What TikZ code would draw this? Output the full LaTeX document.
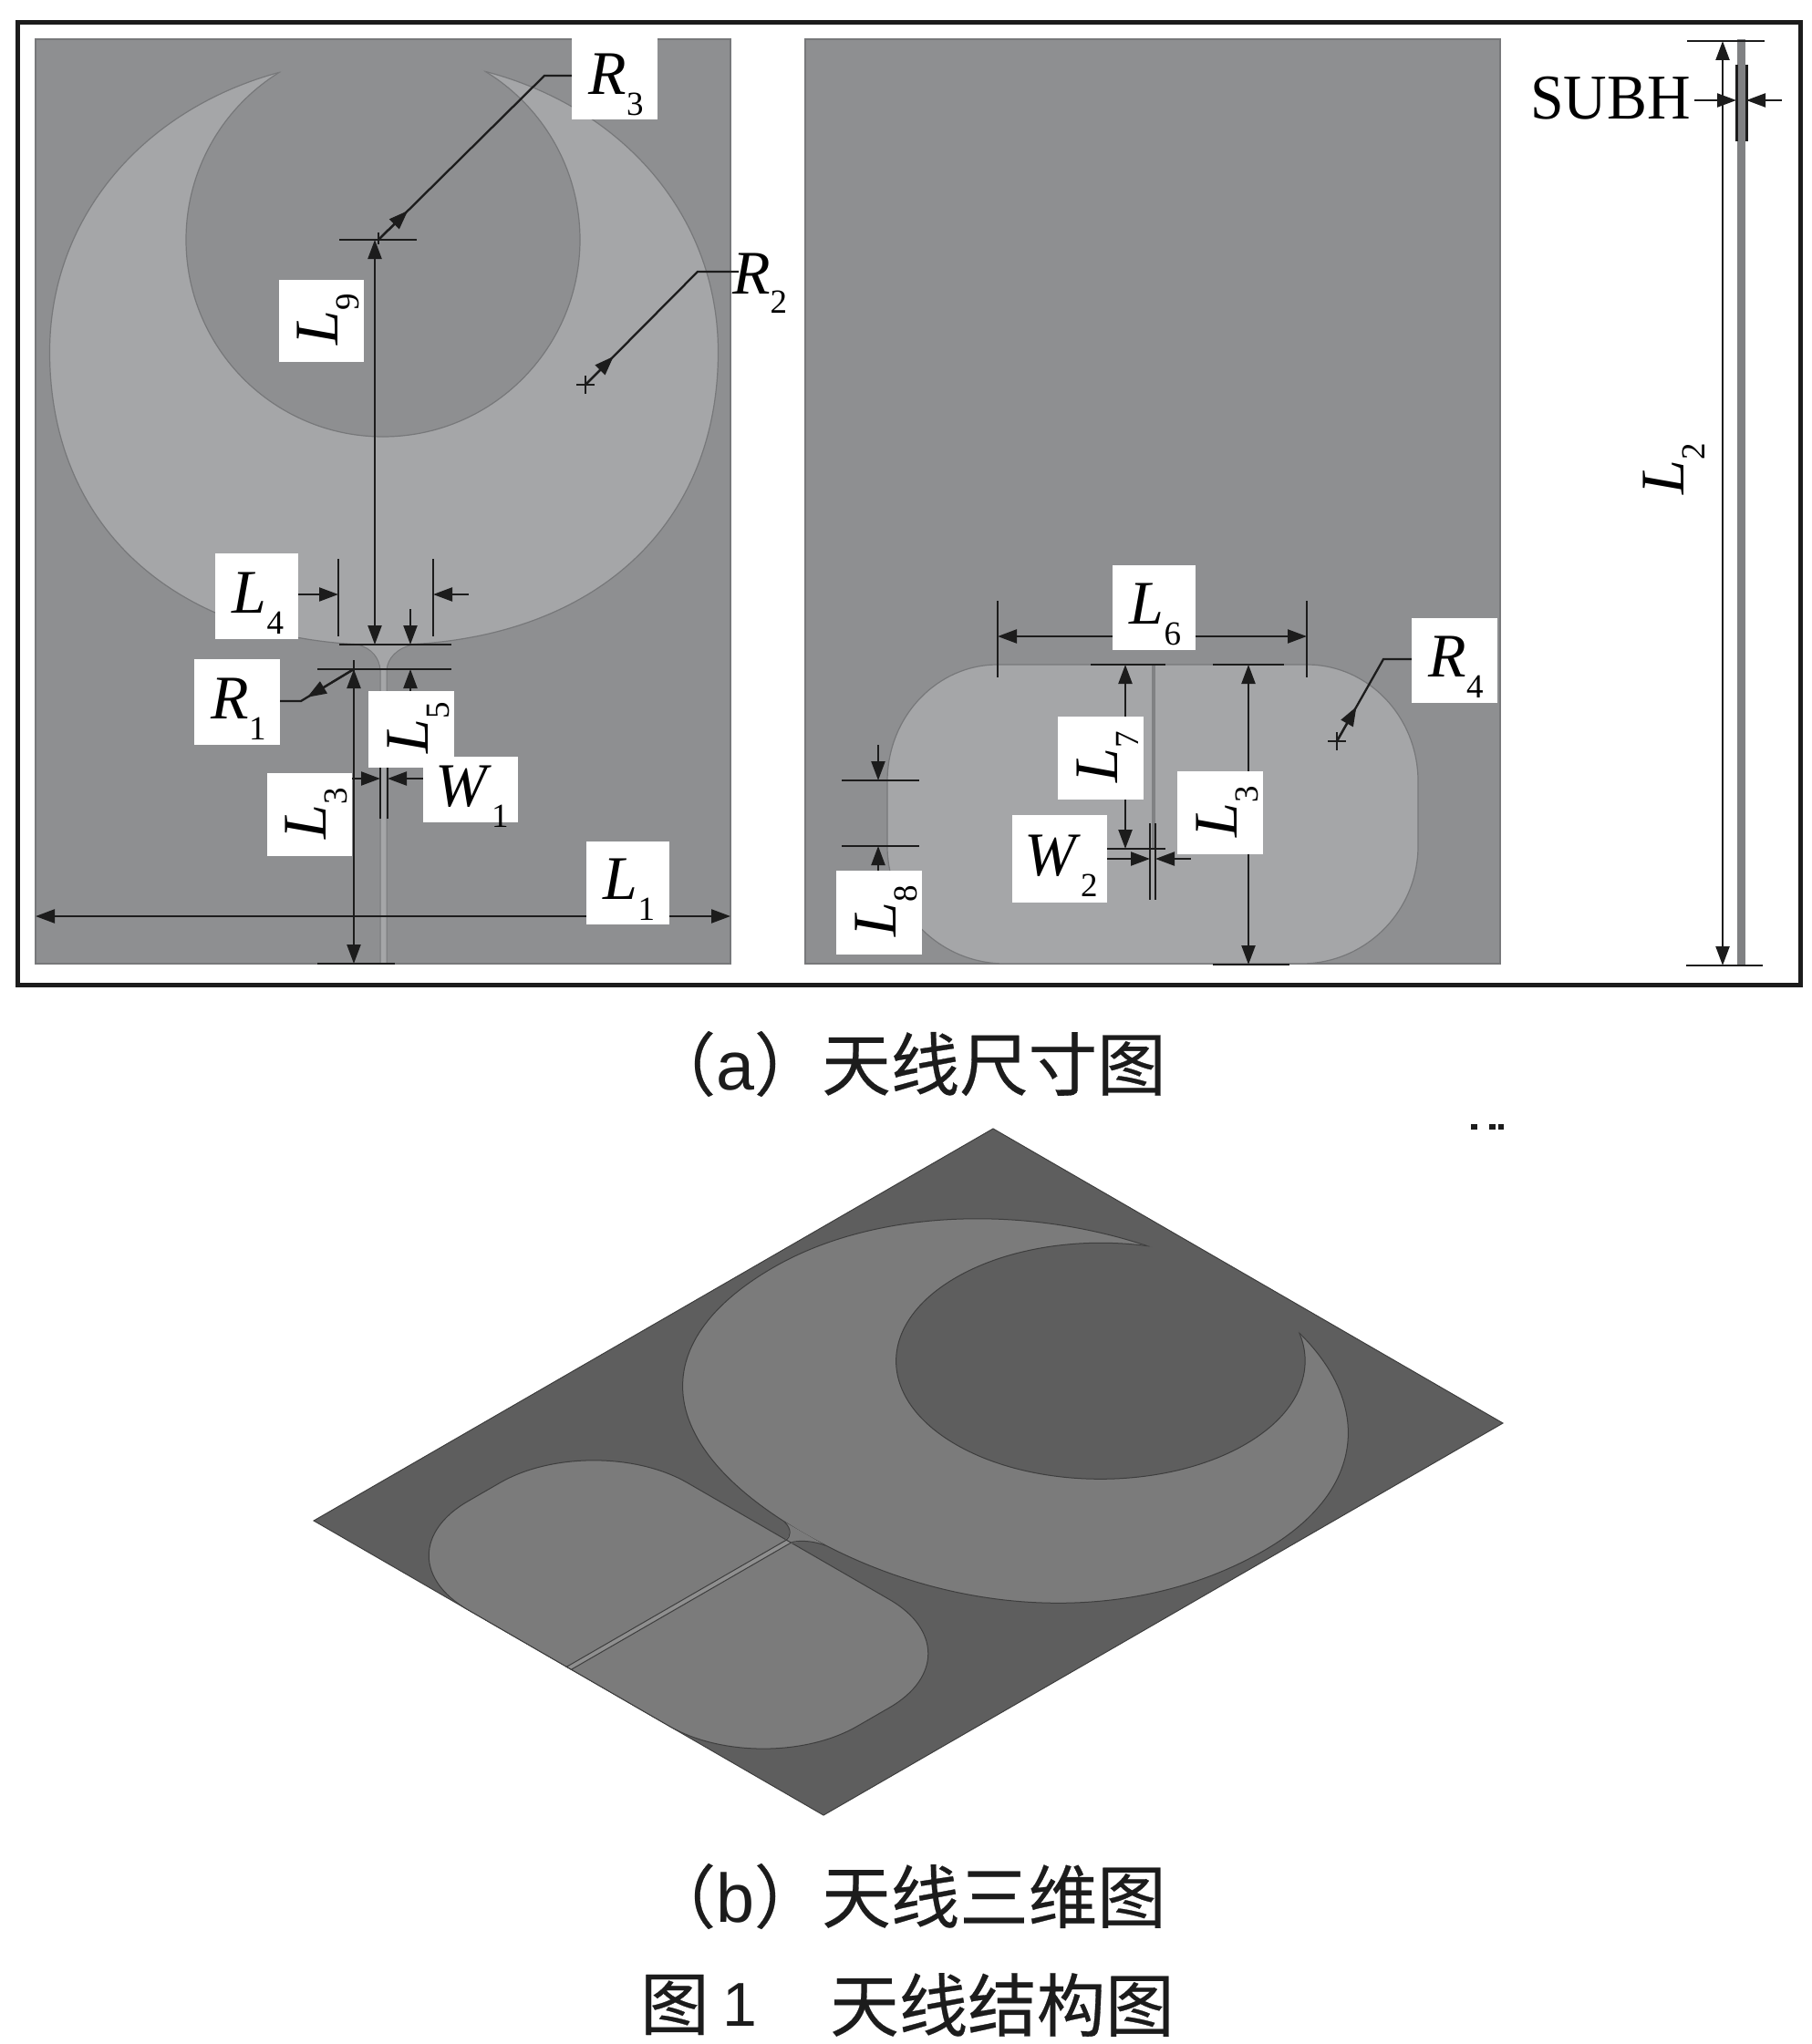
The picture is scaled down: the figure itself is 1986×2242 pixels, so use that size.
\documentclass[tikz,border=0pt]{standalone}
\usepackage{fontspec}
\setmainfont{Liberation Serif}
\newfontfamily\cjk[FakeBold=0.4]{Noto Sans CJK SC}
\newfontfamily\capsans{Liberation Sans}
\usetikzlibrary{arrows.meta,calc}
\pgfdeclarelayer{labels}
\pgfsetlayers{main,labels}
\definecolor{inkc}{HTML}{1C1C1C}
\definecolor{panelc}{HTML}{8E8F91}
\definecolor{patchc}{HTML}{A5A6A8}
\definecolor{edgec}{HTML}{77787A}
\definecolor{groundc}{HTML}{5E5E5E}
\definecolor{patchd}{HTML}{7B7B7B}
\definecolor{edged}{HTML}{3E3E3E}
\tikzset{
  labelbox/.style={fill=white,inner sep=0pt,font=\fontsize{68}{68}\selectfont,text=black},
  freelabel/.style={inner sep=0pt,font=\fontsize{68}{68}\selectfont,text=black},
  capt/.style={inner sep=0pt,font=\cjk\fontsize{75.5}{76}\selectfont,text=inkc},
  tick/.style={draw=inkc,line width=2.3pt},
  both/.style={draw=inkc,line width=2.3pt,{Triangle[length=21pt,width=15pt]}-{Triangle[length=21pt,width=15pt]}},
  one/.style={draw=inkc,line width=2.3pt,-{Triangle[length=21pt,width=15pt]}},
  lead/.style={draw=inkc,line width=2.3pt},
  leadtip/.style={draw=inkc,line width=2.3pt,-{Triangle[length=21pt,width=15pt]}},
}
\newcommand{\sublbl}[2]{\smash{\raisebox{-18pt}{\hspace{3pt}\textit{#1}\raisebox{-23pt}{\smash{\fontsize{37}{37}\selectfont #2}}}}}
% name, left, top, right, bottom, letter, digit
\newcommand{\boxh}[7]{\node[labelbox,minimum width={(#4-#2)*1pt},minimum height={(#5-#3)*1pt}] (#1) at ({(#2+#4)/2},{(#3+#5)/2}) {\sublbl{#6}{#7}};}
\newcommand{\boxv}[7]{\node[labelbox,rotate=90,minimum width={(#5-#3)*1pt},minimum height={(#4-#2)*1pt}] (#1) at ({(#2+#4)/2},{(#3+#5)/2}) {\sublbl{#6}{#7}};}
% the antenna outlines, in the coordinates of the flat view
\newcommand{\outerpath}{(54.5,386) .. controls (54.5,582) and (197.4,707.5) .. (421,707.5) .. controls (644.6,707.5) and (787.5,582) .. (787.5,386) .. controls (787.5,203) and (630,64.5) .. (421,64.5) .. controls (212,64.5) and (54.5,203) .. (54.5,386) -- cycle}
\newcommand{\innerpath}{(420,263) circle[radius=216pt]}
\newcommand{\roundpath}{(1094,729) arc[start angle=90,end angle=180,x radius=121pt,y radius=128pt] -- (973,928) arc[start angle=180,end angle=270,x radius=129pt,y radius=129pt] -- (1427,1057) arc[start angle=270,end angle=360,x radius=128pt,y radius=129pt] -- (1555,857) arc[start angle=0,end angle=90,x radius=122pt,y radius=128pt] -- cycle}
\newcommand{\roundpathD}{(269,729) arc[start angle=90,end angle=180,radius=140pt] -- (129,917) arc[start angle=180,end angle=270,radius=140pt] -- (571,1057) arc[start angle=270,end angle=360,radius=140pt] -- (711,869) arc[start angle=0,end angle=90,radius=140pt] -- cycle}
\begin{document}
\begin{tikzpicture}[x=1pt,y=-1pt]
\useasboundingbox (0,0) rectangle (1986,2242);
% labels go on a layer above the drawing
\begin{pgfonlayer}{labels}
\boxh{R3}{627}{40}{721}{131}{R}{3}
\boxv{L9}{306}{307}{399}{397}{L}{9}
\boxh{L4}{236}{607}{327}{701}{L}{4}
\boxh{R1}{213}{723}{307}{817}{R}{1}
\boxv{L5}{404}{758}{498}{842}{L}{5}
\boxv{L3a}{293}{848}{386}{939}{L}{3}
\boxh{W1}{464}{830}{568}{902}{W}{1}
\boxh{L1}{643}{923}{734}{1014}{L}{1}
\boxh{L6}{1220}{620}{1311}{713}{L}{6}
\boxh{R4}{1548}{678}{1642}{771}{R}{4}
\boxv{L7}{1160}{786}{1254}{877}{L}{7}
\boxv{L3b}{1291}{846}{1385}{937}{L}{3}
\boxh{W2}{1110}{894}{1214}{990}{W}{2}
\boxv{L8}{917}{955}{1011}{1047}{L}{8}
\node[freelabel,anchor=base west] (R2) at (803,322) {\textit{R}\raisebox{-21pt}{\smash{\fontsize{37}{37}\selectfont 2}}};
\node[freelabel,rotate=90] (L2) at (1828,516) {\sublbl{L}{2}};
\node[freelabel,anchor=base west,font=\fontsize{70}{70}\selectfont] (SUBH) at (1678,131) {\scalebox{0.94}[1]{SUBH}};
\node[capt] (capA) at (806,1167) {（{\capsans a}）};
\node[capt] (capAt) at (1090,1167) {天线尺寸图};
\node[capt] (capB) at (806,2080) {（{\capsans b}）};
\node[capt] (capBt) at (1090,2080) {天线三维图};
\node[capt] (figA) at (740,2199) {图};
\node[capt,font=\capsans\fontsize{68}{68}\selectfont] (figN) at (811,2199) {1};
\node[capt] (figT) at (1099,2199) {天线结构图};
\end{pgfonlayer}
% frame
\draw[inkc,line width=5pt] (19,25) rectangle (1974,1080);
% left panel
\fill[panelc,draw=edgec,line width=1.2pt] (39,43) rectangle (801,1057);
\fill[patchc,draw=edgec,line width=1.2pt] \outerpath;
\fill[panelc] \innerpath;
\begin{scope}
\clip \outerpath;
\draw[edgec,line width=1.2pt] \innerpath;
\end{scope}
\fill[patchc] (392,707) .. controls (408,711) and (416,722) .. (417,735) -- (417,1057) -- (424,1057) -- (424,735) .. controls (425,722) and (435,711) .. (453,707) -- cycle;
\draw[edgec,line width=1pt] (392,707) .. controls (408,711) and (416,722) .. (417,735) -- (417,1057);
\draw[edgec,line width=1pt] (453,707) .. controls (435,711) and (425,722) .. (424,735) -- (424,1057);
% right panel
\fill[panelc,draw=edgec,line width=1.2pt] (883,43) rectangle (1645,1057);
\fill[patchc] \roundpath;
\draw[edgec,line width=1.2pt] \roundpath;
\fill[edgec!80!patchc] (1262.5,729) rectangle (1266.5,931);
% side view
\fill[edgec!60!panelc] (1905,43) rectangle (1914,1058);
% dimension lines, left panel
\draw[both] (39,1005) -- (801,1005);
\draw[tick] (348,734) -- (495,734);
\draw[tick] (348,1057) -- (433,1057);
\draw[tick] (388,724) -- (388,740);
\draw[both] (388,734) -- (388,1057);
\draw[tick] (372,263) -- (457,263);
\draw[tick] (372,707) -- (495,707);
\draw[both] (411,263) -- (411,707);
\draw[tick] (371,613) -- (371,698);
\draw[tick] (475,613) -- (475,698);
\draw[one] (L4.east |- 0,652) -- (371,652);
\draw[one] (514,652) -- (475,652);
\draw[one] (450,668) -- (450,707);
\draw[one] (450,0 |- L5.east) -- (450,734);
\draw[tick] (417,842) -- (417,898);
\draw[tick] (425,842) -- (425,898);
\draw[one] (L3a.south |- 0,854) -- (417,854);
\draw[one] (W1.west |- 0,854) -- (425,854);
% radius leaders, left panel
\coordinate (c1) at (388,734); \coordinate (e1) at (330,769);
\draw[lead] (R1.east |- e1) -- (e1) -- (c1);
\draw[leadtip] (c1) -- ($(c1)!0.88!(e1)$);
\coordinate (c3) at (415,263); \coordinate (e3) at (597,83);
\draw[lead] (R3.west |- e3) -- (e3) -- (c3);
\draw[leadtip] (c3) -- ($(c3)!0.177!(e3)$);
\draw[tick] (415,255) -- (415,268);
\coordinate (c2) at (642,422); \coordinate (e2) at (765,298);
\draw[lead] (810,298) -- (e2) -- (c2);
\draw[leadtip] (c2) -- ($(c2)!0.25!(e2)$);
\draw[tick] (632,422) -- (652,422);
\draw[tick] (642,412) -- (642,432);
% dimension lines, right panel
\draw[tick] (1094,659) -- (1094,743);
\draw[tick] (1433,659) -- (1433,743);
\draw[both] (1094,698) -- (1433,698);
\draw[tick] (1196,729) -- (1278,729);
\draw[tick] (1214,931) -- (1278,931);
\draw[both] (1234,729) -- (1234,931);
\draw[tick] (1330,729) -- (1408,729);
\draw[tick] (1330,1058) -- (1414,1058);
\draw[both] (1369,729) -- (1369,1058);
\draw[tick] (1261,903) -- (1261,987);
\draw[tick] (1267,903) -- (1267,987);
\draw[one] (W2.east |- 0,942) -- (1261,942);
\draw[one] (1306,942) -- (1267,942);
\draw[tick] (923,856) -- (1008,856);
\draw[tick] (923,928) -- (1008,928);
\draw[one] (963,817) -- (963,856);
\draw[one] (963,0 |- L8.east) -- (963,928);
\coordinate (c4) at (1466,813); \coordinate (e4) at (1517,723);
\draw[lead] (R4.west |- e4) -- (e4) -- (c4);
\draw[leadtip] (c4) -- ($(c4)!0.42!(e4)$);
\draw[tick] (1456,813) -- (1476,813);
\draw[tick] (1466,803) -- (1466,823);
% side view dimensions
\draw[tick] (1850,45) -- (1935,45);
\draw[tick] (1849,1059) -- (1933,1059);
\draw[both] (1889,45) -- (1889,1059);
\draw[inkc,line width=3pt] (1904.5,71) -- (1904.5,155);
\draw[inkc,line width=3pt] (1915,71) -- (1915,155);
\draw[one] (1858,110) -- (1904,110);
\draw[one] (1954,110) -- (1915,110);
% three-dimensional view
\begin{scope}[cm={0.7336,-0.4239,0.7347,0.4241,(1092pt,-1203.2pt)}]
\fill[groundc,draw=edged,line width=1pt] (39,43) rectangle (801,1057);
\fill[patchd,draw=edged,line width=1pt] \roundpathD;
\fill[patchd,draw=edged,line width=1pt] \outerpath;
\fill[groundc] \innerpath;
\begin{scope}
\clip \outerpath;
\draw[edged,line width=1pt] \innerpath;
\end{scope}
\fill[patchd] (392,707) .. controls (408,711) and (416,722) .. (417,735) -- (424,735) .. controls (425,722) and (435,711) .. (453,707) -- cycle;
\draw[edged,line width=1pt] (392,707) .. controls (408,711) and (416,722) .. (417,729);
\draw[edged,line width=1pt] (453,707) .. controls (435,711) and (425,722) .. (424,729);
\fill[patchd!85!white,draw=edged,line width=1pt] (417,729) rectangle (424,1057);
\end{scope}
% stray marks above the 3D view
\fill[inkc] (1613,1233) rectangle (1620,1239);
\fill[inkc] (1633,1233) rectangle (1640,1239);
\fill[inkc] (1643,1233) rectangle (1649,1239);
\end{tikzpicture}
\end{document}
